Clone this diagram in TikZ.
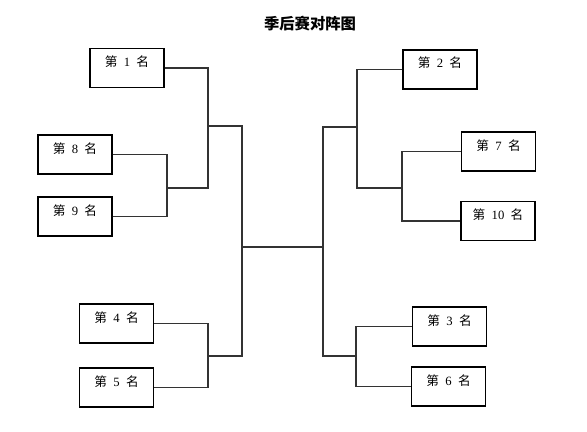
\documentclass[tikz,border=0pt]{standalone}
\usepackage{fontspec}
\setmainfont{Liberation Serif}
\newfontfamily\cjk{Noto Sans CJK SC}
\newcommand{\rank}[1]{{\cjk 第}\enspace#1\enspace{\cjk 名}}

\begin{document}
\begin{tikzpicture}[
    x=0.75pt, y=-0.75pt,
    box/.style={draw, line width=0.8pt, shape=rectangle, minimum width=55.5pt,
                inner ysep=0pt, text height=13.5pt, text depth=15.75pt,
                font=\fontsize{9.5}{11}\selectfont},
    link/.style={draw=black!80, line width=0.8pt}
    ]

    \useasboundingbox (0,0) rectangle (587,432);

    \node[font=\fontsize{11.5}{14}\selectfont\bfseries\cjk] (title) at (310,24) {季后赛对阵图};

    % seeds
    \foreach \n/\x/\y in {1/127/68, 8/75/154.5, 9/75/216.5, 4/116.5/323.5, 5/116.5/387.5,
                          2/440/69.5, 7/498.5/151.5, 10/498/221, 3/449.5/326.5, 6/448.5/386.5}
      \node[box] (r\n) at (\x,\y) {\rank{\n}};

    % left half
    \coordinate (q89) at (167,188);
    \coordinate (s1) at (208,126);
    \coordinate (q45) at (208,356);
    \coordinate (f1) at (242,247);
    \draw[link] (r8.east) -| (q89) |- (r9.east);
    \draw[link] (r1.east) -| (s1) |- (q89);
    \draw[link] (r4.east) -| (q45) |- (r5.east);
    \draw[link] (s1) -| (f1) |- (q45);

    % right half
    \coordinate (q710) at (402,188);
    \coordinate (s2) at (357,127);
    \coordinate (q36) at (356,356);
    \coordinate (f2) at (323,247);
    \draw[link] (r7.west) -| (q710) |- (r10.west);
    \draw[link] (r2.west) -| (s2) |- (q710);
    \draw[link] (r3.west) -| (q36) |- (r6.west);
    \draw[link] (s2) -| (f2) |- (q36);

    \draw[link] (f1) -- (f2);

\end{tikzpicture}
\end{document}
